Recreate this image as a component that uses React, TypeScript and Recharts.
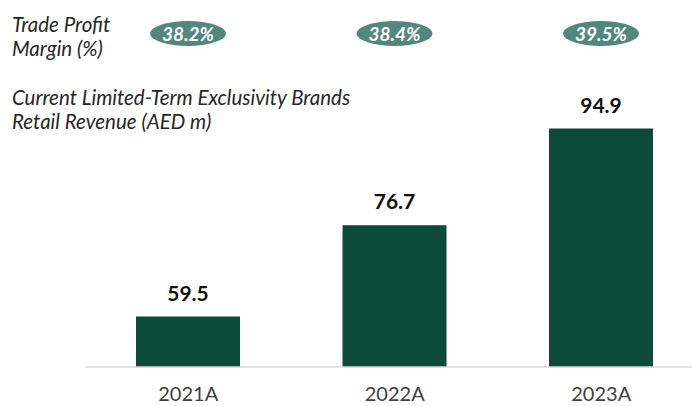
import { BarChart, Bar, XAxis, YAxis, LabelList } from "recharts";

const years = ["2021A", "2022A", "2023A"];
const revenue = [59.5, 76.7, 94.9];
const marginPct = [38.2, 38.4, 39.5];

const data = years.map((year, i) => ({
  year,
  revenue: revenue[i],
  margin: marginPct[i],
}));

const FONT = "Lato, 'Open Sans', sans-serif";
const BAR = "#0d4a3a";
const PILL = "#52877c";

const ValueLabel = (props: any) => {
  const { x, y, width, value } = props;
  return (
    <text
      x={x + width / 2}
      y={y - 16}
      textAnchor="middle"
      fontFamily={FONT}
      fontWeight={700}
      fontSize={21}
      fill="#111"
    >
      {value.toFixed(1)}
    </text>
  );
};

const MarginPill = (props: any) => {
  const { x, width, value } = props;
  const cx = x + width / 2;
  return (
    <g>
      <ellipse cx={cx} cy={33.5} rx={38} ry={12.5} fill={PILL} />
      <text
        x={cx}
        y={40.5}
        textAnchor="middle"
        fontFamily={FONT}
        fontStyle="italic"
        fontWeight={700}
        fontSize={19}
        fill="#fff"
      >
        {value.toFixed(1)}%
      </text>
    </g>
  );
};

const YearTick = (props: any) => {
  const { x, y, payload } = props;
  return (
    <text
      x={x}
      y={y + 26}
      textAnchor="middle"
      fontFamily={FONT}
      fontSize={20}
      fill="#404040"
    >
      {payload.value}
    </text>
  );
};

const titleStyle: React.CSSProperties = {
  position: "absolute",
  left: 12,
  fontFamily: FONT,
  fontStyle: "italic",
  fontSize: 20.5,
  lineHeight: "24px",
  color: "#262626",
};

export default function App() {
  return (
    <div
      style={{
        position: "absolute",
        left: 0,
        top: 0,
        width: 692,
        height: 406,
        overflow: "hidden",
        background: "#fff",
      }}
    >
      <BarChart
        width={720}
        height={406}
        data={data}
        margin={{ top: 101.5, right: 15.5, left: 85, bottom: 0 }}
        barSize={104}
      >
        <XAxis
          dataKey="year"
          height={39}
          axisLine={{ stroke: "#d9d9d9", strokeWidth: 1.5 }}
          tickLine={false}
          tick={<YearTick />}
          interval={0}
        />
        <YAxis hide domain={[50, 100]} allowDataOverflow />
        <Bar dataKey="revenue" fill={BAR} isAnimationActive={false}>
          <LabelList dataKey="revenue" content={<ValueLabel />} />
          <LabelList dataKey="margin" content={<MarginPill />} />
        </Bar>
      </BarChart>
      <div style={{ ...titleStyle, top: 12 }}>
        Trade Profit
        <br />
        Margin (%)
      </div>
      <div style={{ ...titleStyle, top: 85 }}>
        Current Limited-Term Exclusivity Brands
        <br />
        Retail Revenue (AED m)
      </div>
    </div>
  );
}
